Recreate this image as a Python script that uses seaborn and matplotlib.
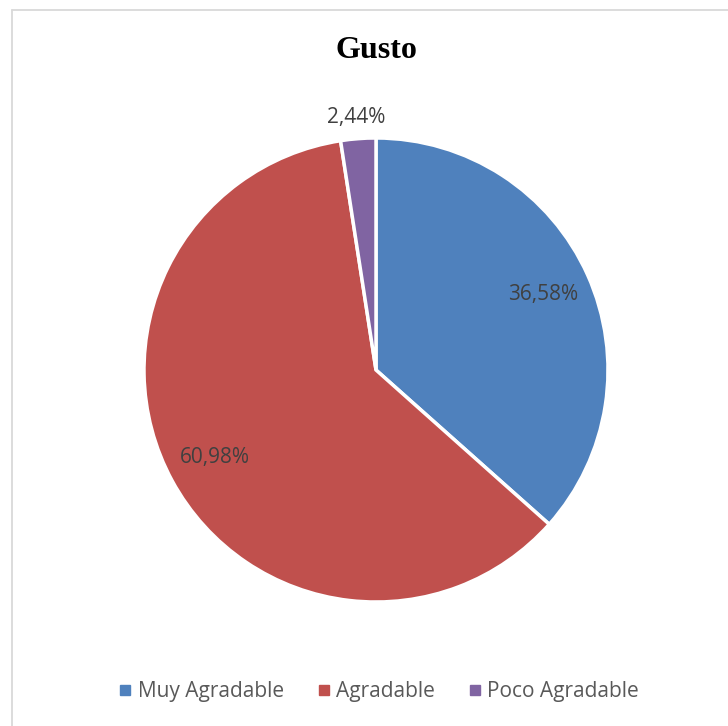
import seaborn as sns
import matplotlib.pyplot as plt
import numpy as np
from matplotlib.lines import Line2D

categorias = ["Muy Agradable", "Agradable", "Poco Agradable"]
porcentajes = [36.58, 60.98, 2.44]
colores = ["#4F81BD", "#C0504D", "#8064A2"]

sns.set_style("white")
plt.rcParams["font.family"] = ["Open Sans", "DejaVu Sans"]

W, H = 728, 726
fig = plt.figure(figsize=(W / 100, H / 100), dpi=100)

# pie placed by pixel geometry: center (376, 370), radius 232
cx, cy, r = 376, 370, 232
ax = fig.add_axes([(cx - r) / W, 1 - (cy + r) / H, 2 * r / W, 2 * r / H])

wedges, texts, autotexts = ax.pie(
    porcentajes,
    colors=colores,
    startangle=90,
    counterclock=False,
    autopct=lambda p: f"{p:.2f}%".replace(".", ","),
    pctdistance=0.79,
    wedgeprops=dict(edgecolor="white", linewidth=2.5),
    textprops=dict(fontsize=15, color="#404040"),
)
# small slice label goes outside
for w, t in zip(wedges, autotexts):
    if (w.theta2 - w.theta1) < 20:
        ang = np.deg2rad((w.theta1 + w.theta2) / 2)
        t.set_position((1.09 * np.cos(ang), 1.09 * np.sin(ang)))
ax.set_xlim(-1, 1)
ax.set_ylim(-1, 1)
ax.set_aspect("equal")
ax.axis("off")

fig.text(376 / W, 1 - 50 / H, "Gusto", ha="center", va="center",
         fontsize=23, fontweight="bold", family="Liberation Serif", color="black")

handles = [Line2D([], [], marker="s", linestyle="none", markersize=7,
                  markerfacecolor=c, markeredgecolor=c) for c in colores]
fig.legend(handles, categorias, loc="center", bbox_to_anchor=(379 / W, 1 - 692 / H),
           ncol=3, frameon=False, fontsize=15, labelcolor="#595959",
           handlelength=0.6, handletextpad=0.3, columnspacing=1.6)

# chart area border (top and left edges visible)
bx, by = 11.5 / W, 1 - 9.5 / H
fig.add_artist(Line2D([bx, 1.01], [by, by], color="#D9D9D9", linewidth=1.3))
fig.add_artist(Line2D([bx, bx], [by, -0.01], color="#D9D9D9", linewidth=1.3))

fig.savefig("out.png", dpi=100, facecolor="white")
